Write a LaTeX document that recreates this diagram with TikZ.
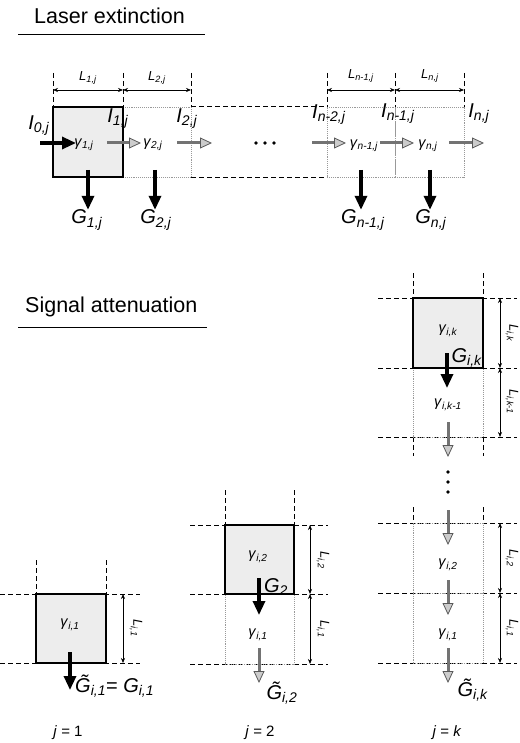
\documentclass[tikz,border=0pt]{standalone}
\usepackage{fontspec}
\setmainfont{Liberation Sans}[ItalicFont={Liberation Sans Italic}]
\usetikzlibrary{arrows.meta,positioning,calc}
\newcommand{\lab}[2]{\textit{#1}\textsubscript{\textit{#2}}}
\newcommand{\tlab}[2]{\textit{\~{#1}}\textsubscript{\textit{#2}}}

\begin{document}
\begin{tikzpicture}[x=1pt,y=-1pt,
  hicell/.style={draw=black, line width=1.6pt, fill=gray!14, minimum width=70pt, minimum height=70pt, inner sep=0pt},
  locell/.style={draw=gray!80, densely dotted, line width=0.9pt, minimum width=69pt, minimum height=70pt, inner sep=0pt},
  guide/.style={line width=0.7pt, dash pattern=on 5pt off 3pt},
  dim/.style={{Stealth[length=5pt,width=4pt]}-{Stealth[length=5pt,width=4pt]}, line width=0.6pt},
  blk/.style={line width=3.2pt, -{Triangle[length=14pt,width=12pt]}},
  gry/.style={line width=3pt, draw=black!55, -{Triangle[length=12pt,width=11pt,color=black!65,fill=gray!40,line width=0.8pt]}},
  big/.style={font=\fontsize{20}{22}\selectfont, inner sep=0pt},
  gam/.style={font=\fontsize{14.5}{16}\selectfont, inner sep=0pt},
  len/.style={font=\fontsize{13}{14}\selectfont, inner sep=0pt},
  jlab/.style={font=\fontsize{15}{17}\selectfont, inner sep=0pt},
  ttl/.style={font=\fontsize{21.5}{24}\selectfont, inner sep=0pt}
]
\useasboundingbox (0,0) rectangle (519,743);

% laser extinction
\node[ttl, anchor=west] (ttl1) at (34,16) {Laser extinction};
\draw[line width=1pt] (18,35) -- (205,35);

\node[locell, minimum width=68pt] (c2) at (157,142) {};
\node[locell, minimum width=68pt] (cm) at (361,142) {};
\node[locell] (cn) at (429.5,142) {};
\node[hicell] (c1) at (88,142) {};
\draw[guide] (c2.north east) -- (cm.north west);
\draw[guide] (c2.south east) -- (cm.south west);

% lengths
\foreach \x/\n in {53/a,123/b,191/c,327/d,395/e,464/f}
  \coordinate (t\n) at (\x,73);
\foreach \n in {a,b,c,d,e,f}
  \draw[guide] (t\n) -- ++(0,34);
\draw[dim] ($(ta)+(0,17)$) -- ($(tb)+(0,17)$);
\draw[dim] ($(tb)+(0,17)$) -- ($(tc)+(0,17)$);
\draw[dim] ($(td)+(0,17)$) -- ($(te)+(0,17)$);
\draw[dim] ($(te)+(0,17)$) -- ($(tf)+(0,17)$);
\node[len] (l1) at (88,78) {\lab{L}{1,j}};
\node[len] (l2) at (157,78) {\lab{L}{2,j}};
\node[len] (lm) at (361,76) {\lab{L}{n-1,j}};
\node[len] (ln) at (430,76) {\lab{L}{n,j}};

% intensities
\node[gam] (g1) at (84,145) {\lab{γ}{1,j}};
\node[gam] (g2) at (153,145) {\lab{γ}{2,j}};
\node[gam] (gm) at (364,146) {\lab{γ}{n-1,j}};
\node[gam] (gn) at (428,146) {\lab{γ}{n,j}};
\coordinate (a0) at (40,143); \coordinate (b0) at (76,143);
\draw[blk] (a0) -- (b0);
\foreach \s/\e [count=\i] in {107/141,177/212,312/346,380/414,449/484} {
  \coordinate (a\i) at (\s,143); \coordinate (b\i) at (\e,143);
  \draw[gry] (a\i) -- (b\i);
}
\foreach \x in {256,265,274}
  \fill (\x,143) circle (1.8);
\node[big] (i0) at (39,126) {\lab{I}{0,j}};
\node[big] (i1) at (118,119) {\lab{I}{1,j}};
\node[big] (i2) at (187,119) {\lab{I}{2,j}};
\node[big] (im2) at (329,115) {\lab{I}{n-2,j}};
\node[big] (im1) at (398,114) {\lab{I}{n-1,j}};
\node[big] (in) at (479,114) {\lab{I}{n,j}};

% local signals
\node[big] (G1) at (87,220) {\lab{G}{1,j}};
\node[big] (G2) at (156,220) {\lab{G}{2,j}};
\node[big] (Gm) at (363,220) {\lab{G}{n-1,j}};
\node[big] (Gn) at (431,220) {\lab{G}{n,j}};
\foreach \x/\n in {88/1,155/2,361/m,430/n}
  \draw[blk] (\x,170) -- (\x,0 |- G\n.north);

% signal attenuation
\node[ttl, anchor=west] (ttl2) at (25,307) {Signal attenuation};
\draw[line width=1pt] (18,327) -- (207,327);

% j = 1
\draw[guide] (0,594) -- (140,594);
\draw[guide] (0,663) -- (140,663);
\draw[guide] (36,560) -- (36,594);
\draw[guide] (106,560) -- (106,594);
\node[hicell, minimum height=69pt] (p1) at (71,628.5) {};
\node[gam] (q1) at (70,625) {\lab{γ}{i,1}};
\draw[dim] (123,594) -- (123,663);
\node[len, rotate=-90] (r1) at (136,628) {\lab{L}{i,1}};
\node[big, anchor=west] (s1) at (75,686) {\tlab{G}{i,1}= \lab{G}{i,1}};
\coordinate (u1) at (70,652);
\draw[blk] (u1) -- ++(0,38);
\node[jlab] (j1) at (68,733) {\textit{j} = 1};

% j = 2
\draw[guide] (190,525) -- (328,525);
\draw[guide] (190,594) -- (328,594);
\draw[guide] (190,664) -- (328,664);
\draw[guide] (225,490) -- (225,525);
\draw[guide] (294,490) -- (294,525);
\node[locell] (p21) at (259.5,629) {};
\node[hicell, minimum width=69pt, minimum height=69pt] (p22) at (259.5,559.5) {};
\node[gam] (q22) at (258,557) {\lab{γ}{i,2}};
\node[gam] (q21) at (258,635) {\lab{γ}{i,1}};
\draw[dim] (310,525) -- (310,594);
\draw[dim] (310,594) -- (310,664);
\node[len, rotate=-90] (r22) at (323,560) {\lab{L}{i,2}};
\node[len, rotate=-90] (r21) at (323,629) {\lab{L}{i,1}};
\node[big] (s22) at (276,587) {\lab{G}{2}};
\coordinate (u22) at (259,578);
\draw[blk] (u22) -- ++(0,37);
\coordinate (u21) at (259,648);
\draw[gry] (u21) -- ++(0,35);
\node[big] (s21) at (282,693) {\tlab{G}{i,2}};
\node[jlab] (j2) at (260,733) {\textit{j} = 2};

% j = k
\foreach \y in {298,368,437,523,593,663}
  \draw[guide] (378,\y) -- (517,\y);
\foreach \x in {413,483} {
  \draw[guide] (\x,273) -- (\x,298);
  \draw[guide] (\x,437) -- (\x,456);
  \draw[guide] (\x,507) -- (\x,523);
}
\node[locell, minimum width=70pt, minimum height=69pt] (pk1) at (448,402.5) {};
\node[locell, minimum width=70pt] (pk2) at (448,558) {};
\node[locell, minimum width=70pt] (pk3) at (448,628) {};
\node[hicell] (pkk) at (448,333) {};
\node[gam] (qkk) at (448,331) {\lab{γ}{i,k}};
\node[gam] (qk1) at (448,405) {\lab{γ}{i,k-1}};
\node[gam] (qk2) at (448,565) {\lab{γ}{i,2}};
\node[gam] (qk3) at (448,635) {\lab{γ}{i,1}};
\draw[dim] (500,298) -- (500,368);
\draw[dim] (500,368) -- (500,437);
\draw[dim] (500,523) -- (500,593);
\draw[dim] (500,593) -- (500,663);
\node[len, rotate=-90] (rkk) at (512,333) {\lab{L}{i,k}};
\node[len, rotate=-90] (rk1) at (512,402) {\lab{L}{i,k-1}};
\node[len, rotate=-90] (rk2) at (512,558) {\lab{L}{i,2}};
\node[len, rotate=-90] (rk3) at (512,628) {\lab{L}{i,1}};
\node[big] (skk) at (467,358) {\lab{G}{i,k}};
\coordinate (ukk) at (447,353);
\draw[blk] (ukk) -- ++(0,35);
\foreach \s [count=\i] in {422,510,580,648} {
  \coordinate (v\i) at (448,\s);
  \draw[gry] (v\i) -- ++(0,35);
}
\foreach \y in {472,482,492}
  \fill (448,\y) circle (1.8);
\node[big] (sk) at (473,690) {\tlab{G}{i,k}};
\node[jlab] (jk) at (447,733) {\textit{j} = \textit{k}};
\end{tikzpicture}
\end{document}
